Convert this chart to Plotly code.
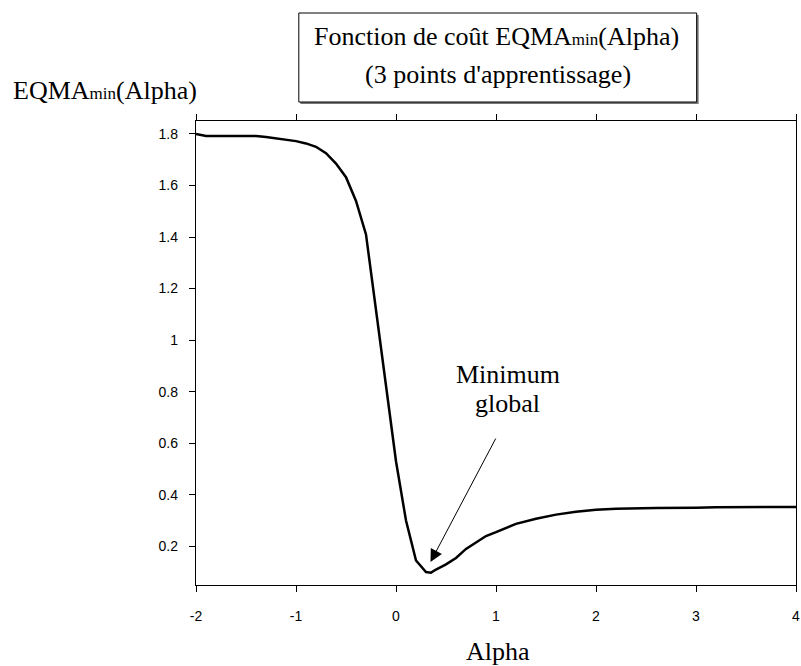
import plotly.graph_objects as go

# ---- data ----
alpha = [-2.0, -1.9, -1.8, -1.6, -1.4, -1.3, -1.2, -1.1, -1.0, -0.9, -0.8, -0.7, -0.6,
         -0.5, -0.4, -0.3, -0.2, -0.1, 0.0, 0.1, 0.2, 0.3, 0.35, 0.4, 0.5, 0.6, 0.7,
         0.8, 0.9, 1.0, 1.1, 1.2, 1.4, 1.6, 1.8, 2.0, 2.2, 2.4, 2.6, 3.0, 3.2, 4.0]
eqma = [1.800, 1.792, 1.792, 1.792, 1.792, 1.788, 1.783, 1.778, 1.772, 1.763, 1.750, 1.725, 1.685,
        1.632, 1.540, 1.410, 1.115, 0.815, 0.530, 0.300, 0.145, 0.100, 0.098, 0.110, 0.130, 0.155, 0.190,
        0.215, 0.240, 0.255, 0.272, 0.287, 0.307, 0.323, 0.334, 0.342, 0.346, 0.348, 0.349, 0.350, 0.352, 0.353]

x_tickvals = [-2, -1, 0, 1, 2, 3, 4]
x_ticktext = ["-2", "-1", "0", "1", "2", "3", "4"]
y_tickvals = [0.2, 0.4, 0.6, 0.8, 1.0, 1.2, 1.4, 1.6, 1.8]
y_ticktext = ["0.2", "0.4", "0.6", "0.8", "1", "1.2", "1.4", "1.6", "1.8"]

SUB = "<span style='font-family:Liberation Serif;font-size:17px'>min</span>"
title_line1 = "Fonction de coût EQMA" + SUB + "(Alpha)"
title_line2 = "(3 points d'apprentissage)"
y_title = "EQMA" + SUB + "(Alpha)"
x_title = "Alpha"
note_line1 = "Minimum"
note_line2 = "global"

# ---- layout geometry (pixels) ----
W, H = 801, 666
L, R, T, B = 196, 1, 121, 81
PW = W - L - R
PH = H - T - B


def px(xp):
    return (xp - L) / PW


def py(yp):
    return (H - B - yp) / PH


SERIF = "Liberation Serif, Times New Roman, serif"
SANS = "Liberation Sans, Arial, sans-serif"

fig = go.Figure()
fig.add_trace(go.Scatter(x=alpha, y=eqma, mode="lines",
                         line=dict(color="black", width=2.5), showlegend=False,
                         hoverinfo="skip"))

# title box shadow + box
fig.add_shape(type="rect", xref="paper", yref="paper",
              x0=px(301), x1=px(702), y0=py(104), y1=py(15),
              fillcolor="#777777", line=dict(width=0), layer="above")
fig.add_shape(type="rect", xref="paper", yref="paper",
              x0=px(299.5), x1=px(700), y0=py(102), y1=py(13),
              fillcolor="white", line=dict(color="black", width=1), layer="above")

annots = [
    dict(text=title_line1, x=px(498), y=py(37), size=26),
    dict(text=title_line2, x=px(500), y=py(74), size=26),
    dict(text=y_title, x=px(104), y=py(91), size=26),
    dict(text=x_title, x=px(500), y=py(651), size=26),
    dict(text=note_line1, x=px(510), y=py(374), size=26),
    dict(text=note_line2, x=px(510), y=py(403), size=26),
]
for a in annots:
    fig.add_annotation(text=a["text"], x=a["x"], y=a["y"], xref="paper", yref="paper",
                       xanchor="center", yanchor="middle", showarrow=False,
                       font=dict(family=SERIF, size=a["size"], color="black"))

# arrow pointing to the global minimum
fig.add_annotation(text="", x=0.345, y=0.139, xref="x", yref="y",
                   ax=66, ay=-125, showarrow=True, arrowhead=2, arrowsize=2.5,
                   arrowwidth=1, arrowcolor="black", standoff=0)

fig.update_layout(
    width=W, height=H,
    margin=dict(l=L, r=R, t=T, b=B, pad=0),
    paper_bgcolor="white", plot_bgcolor="white",
    showlegend=False,
    xaxis=dict(range=[-2, 4], tickvals=x_tickvals, ticktext=x_ticktext,
               showgrid=False, zeroline=False, showline=True, linecolor="black",
               linewidth=1.3, mirror="ticks", ticks="outside", ticklen=6, tickwidth=1,
               tickcolor="black", ticklabelstandoff=12, ticklabeloverflow="allow",
               tickfont=dict(family=SANS, size=14, color="black")),
    yaxis=dict(range=[0.05, 1.85], tickvals=y_tickvals, ticktext=y_ticktext,
               showgrid=False, zeroline=False, showline=True, linecolor="black",
               linewidth=1.3, mirror=True, ticks="outside", ticklen=6, tickwidth=1,
               tickcolor="black", ticklabelstandoff=8,
               tickfont=dict(family=SANS, size=14, color="black")),
)

fig.write_html("out.html")
